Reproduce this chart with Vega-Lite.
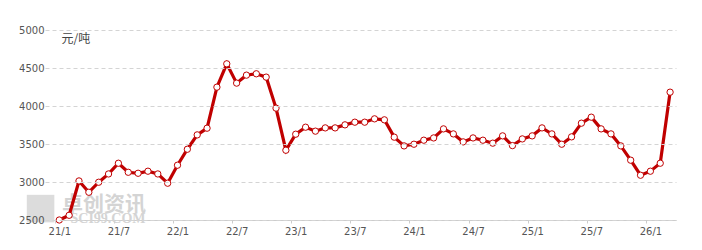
{
  "$schema": "https://vega.github.io/schema/vega-lite/v6.json",
  "width": 631,
  "height": 190,
  "autosize": "none",
  "padding": {"left": 45, "top": 30, "right": 26, "bottom": 30},
  "background": "white",
  "config": {"view": {"stroke": null}},
  "datasets": {
    "price": [
      {"i":0,"v":2500},{"i":1,"v":2562},{"i":2,"v":3014},{"i":3,"v":2865},{"i":4,"v":2997},{"i":5,"v":3106},
      {"i":6,"v":3247},{"i":7,"v":3128},{"i":8,"v":3115},{"i":9,"v":3142},{"i":10,"v":3106},{"i":11,"v":2984},
      {"i":12,"v":3221},{"i":13,"v":3431},{"i":14,"v":3620},{"i":15,"v":3708},{"i":16,"v":4248},{"i":17,"v":4555},
      {"i":18,"v":4301},{"i":19,"v":4406},{"i":20,"v":4424},{"i":21,"v":4380},{"i":22,"v":3972},{"i":23,"v":3418},
      {"i":24,"v":3629},{"i":25,"v":3721},{"i":26,"v":3669},{"i":27,"v":3712},{"i":28,"v":3712},{"i":29,"v":3752},
      {"i":30,"v":3787},{"i":31,"v":3787},{"i":32,"v":3831},{"i":33,"v":3818},{"i":34,"v":3590},{"i":35,"v":3475},
      {"i":36,"v":3497},{"i":37,"v":3550},{"i":38,"v":3580},{"i":39,"v":3699},{"i":40,"v":3633},{"i":41,"v":3528},
      {"i":42,"v":3580},{"i":43,"v":3550},{"i":44,"v":3511},{"i":45,"v":3607},{"i":46,"v":3479},{"i":47,"v":3567},
      {"i":48,"v":3607},{"i":49,"v":3712},{"i":50,"v":3633},{"i":51,"v":3497},{"i":52,"v":3594},{"i":53,"v":3774},
      {"i":54,"v":3853},{"i":55,"v":3699},{"i":56,"v":3633},{"i":57,"v":3475},{"i":58,"v":3287},{"i":59,"v":3089},
      {"i":60,"v":3142},{"i":61,"v":3247},{"i":62,"v":4182}
    ],
    "wm1": [{"i": 4.55, "v": 2700, "label": "卓创资讯"}],
    "wm2": [{"i": 4.95, "v": 2515, "label": "SCI99.COM"}],
    "logo": [{"i": -1.9, "v": 2650}]
  },
  "encoding": {
    "x": {"field": "i", "type": "quantitative",
      "scale": {"domain": [-1.45, 62.6], "nice": false, "zero": false},
      "axis": {"values": [0,6,12,18,24,30,36,42,48,54,60],
        "labelExpr": "(21 + floor(datum.value / 12)) + '/' + (datum.value % 12 + 1)",
        "title": null, "grid": false, "domainColor": "#cccccc", "tickColor": "#cccccc",
        "tickSize": 3, "tickOffset": -4.5, "labelOffset": 4.5, "labelPadding": 3,
        "labelFont": "DejaVu Sans", "labelFontSize": 10, "labelColor": "#555555", "labelFlush": false}},
    "y": {"field": "v", "type": "quantitative",
      "scale": {"domain": [2500, 5000], "nice": false, "zero": false},
      "axis": {"values": [2500,3000,3500,4000,4500,5000], "format": "d", "domain": false, "ticks": false,
        "labelPadding": 1, "labelFont": "DejaVu Sans", "labelFontSize": 10, "labelColor": "#555555",
        "gridColor": "#d4d4d4", "gridDash": [4, 3], "zindex": 1,
        "title": "元/吨", "titleAngle": 0, "titleX": 16, "titleY": 8, "titleAlign": "left",
        "titleBaseline": "middle", "titleFont": "Noto Sans CJK SC", "titleFontSize": 12,
        "titleFontWeight": "normal", "titleColor": "#444444"}}
  },
  "layer": [
    {"data": {"name": "logo"},
     "mark": {"type": "point", "shape": "square", "filled": true, "color": "#dcdcdc", "size": 760, "opacity": 1}},
    {"data": {"name": "wm1"},
     "mark": {"type": "text", "font": "Noto Sans CJK SC", "fontSize": 21, "fontWeight": "bold", "color": "#d4d4d4", "letterSpacing": 5, "baseline": "middle", "align": "center"},
     "encoding": {"text": {"field": "label"}}},
    {"data": {"name": "wm2"},
     "mark": {"type": "text", "font": "Liberation Serif", "fontSize": 14, "fontWeight": "bold", "color": "#d4d4d4", "letterSpacing": 2, "baseline": "middle", "align": "center"},
     "encoding": {"text": {"field": "label"}}},
    {"data": {"name": "price"},
     "mark": {"type": "line", "color": "#c00000", "strokeWidth": 3.2}},
    {"data": {"name": "price"},
     "mark": {"type": "point", "filled": true, "fill": "white", "stroke": "#c00000", "strokeWidth": 1, "size": 40, "opacity": 1}}
  ]
}
